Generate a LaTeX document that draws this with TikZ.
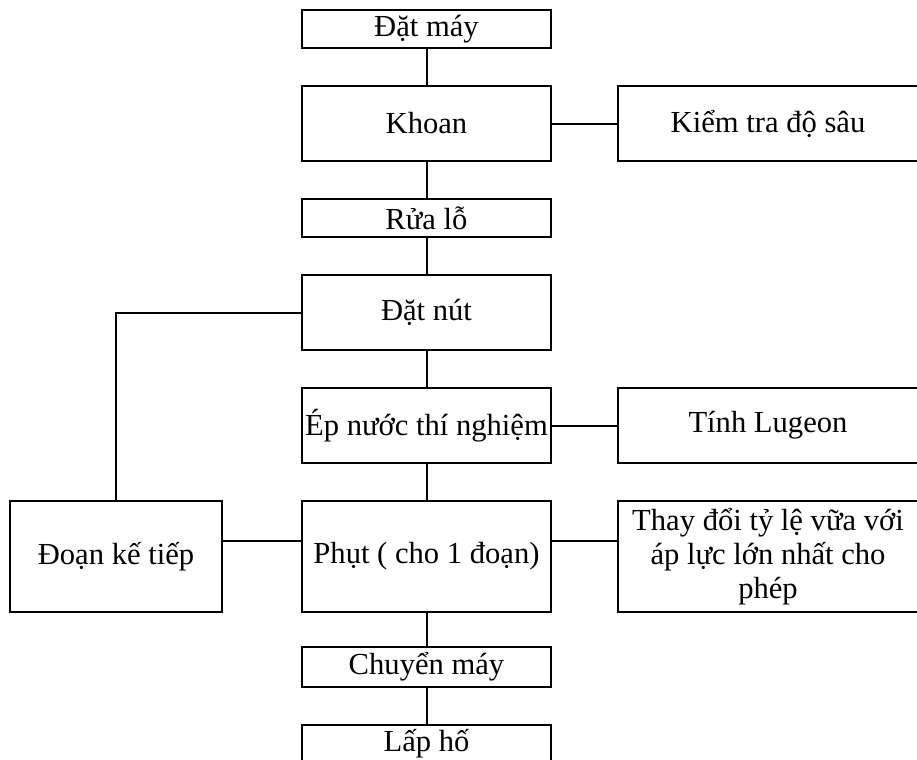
\documentclass[tikz,border=0pt]{standalone}
\usepackage{fontspec}
\setmainfont{Liberation Serif}
\usetikzlibrary{positioning}

\begin{document}
\begin{tikzpicture}[
		node distance=19pt and 33.5pt,
		every node/.style={
			font=\fontsize{15.3pt}{17pt}\selectfont
		},
		box/.style={
			rectangle,
			draw,
			line width=1pt,
			align=center,
			inner xsep=1pt,
			inner ysep=0pt,
			outer sep=0pt,
			minimum width=124.5pt,
			minimum height=37.5pt
		},
		thin/.style={
			box,
			minimum height=19pt
		},
		tall/.style={
			box,
			minimum height=55.5pt
		},
		side/.style={
			box,
			minimum width=150pt
		},
		link/.style={
			line width=1pt
		}
		]
		
		\useasboundingbox (0,0) rectangle (458.5pt,-380pt);
		
		\node[thin] (datmay) at (213.25pt,-14.5pt) {Đặt máy};
		
		\node[box, below=of datmay] (khoan) {Khoan};
		
		\node[side, right=of khoan] (kiemtra) {Kiểm tra độ sâu};
		
		\node[thin, below=of khoan] (rualo) {Rửa lỗ};
		
		\node[box, below=of rualo] (datnut) {Đặt nút};
		
		\node[box, below=of datnut] (epnuoc) {Ép nước thí nghiệm};
		
		\node[side, right=of epnuoc] (lugeon) {Tính Lugeon};
		
		\node[tall, below=of epnuoc] (phut) {Phụt ( cho 1 đoạn)};
		
		\node[side, minimum height=55.5pt, right=of phut] (thaydoi) {
			Thay đổi tỷ lệ vữa với\\
			áp lực lớn nhất cho\\
			phép
		};
		
		\node[tall, minimum width=106pt, left=40pt of phut] (doan) {Đoạn kế tiếp};
		
		\node[thin, minimum height=20pt, below=17.5pt of phut] (chuyen) {Chuyển máy};
		
		\node[thin, below=of chuyen] (lapho) {Lấp hố};
		
		\draw[link] (datmay) -- (khoan);
		\draw[link] (khoan) -- (rualo);
		\draw[link] (rualo) -- (datnut);
		\draw[link] (datnut) -- (epnuoc);
		\draw[link] (epnuoc) -- (phut);
		\draw[link] (phut) -- (chuyen);
		\draw[link] (chuyen) -- (lapho);
		
		\draw[link] (khoan) -- (kiemtra);
		\draw[link] (epnuoc) -- (lugeon);
		\draw[link] ([yshift=8pt]phut.east) -- ([yshift=8pt]thaydoi.west);
		\draw[link] ([yshift=8pt]doan.east) -- ([yshift=8pt]phut.west);
		
		\draw[link] (doan.north) |- (datnut.west);
		
	\end{tikzpicture}
\end{document}
